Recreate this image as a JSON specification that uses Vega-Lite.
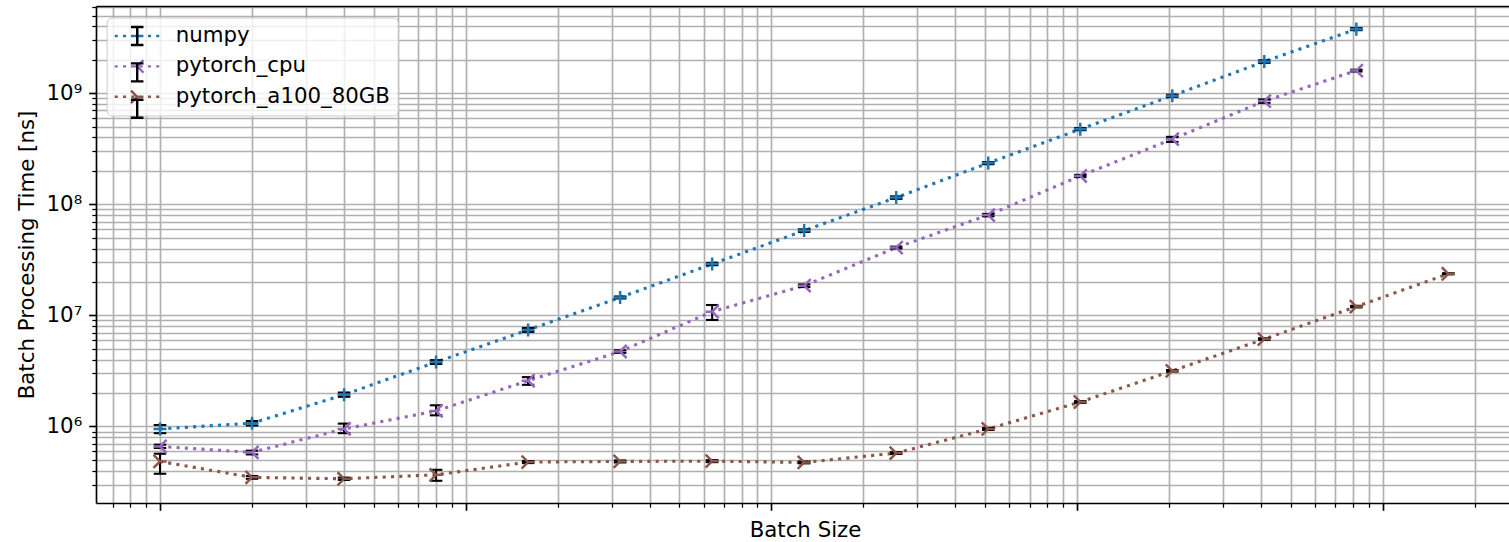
{
  "$schema": "https://vega.github.io/schema/vega-lite/v6.json",
  "autosize": "none",
  "width": 1413,
  "height": 497,
  "padding": {"left": 96, "top": 6, "right": 0, "bottom": 39},
  "background": "white",
  "config": {
    "font": "DejaVu Sans",
    "view": {"stroke": null}
  },
  "data": {
    "values": [
      {"series": "numpy", "batch": 1, "time": 950000, "lo": 870000, "hi": 1030000},
      {"series": "numpy", "batch": 2, "time": 1070000, "lo": 1020000, "hi": 1120000},
      {"series": "numpy", "batch": 4, "time": 1930000, "lo": 1850000, "hi": 2020000},
      {"series": "numpy", "batch": 8, "time": 3800000, "lo": 3650000, "hi": 3950000},
      {"series": "numpy", "batch": 16, "time": 7400000, "lo": 7100000, "hi": 7700000},
      {"series": "numpy", "batch": 32, "time": 14500000, "lo": 14200000, "hi": 14800000},
      {"series": "numpy", "batch": 64, "time": 29000000, "lo": 28300000, "hi": 29700000},
      {"series": "numpy", "batch": 128, "time": 58000000, "lo": 56500000, "hi": 59500000},
      {"series": "numpy", "batch": 256, "time": 115000000, "lo": 112000000, "hi": 118000000},
      {"series": "numpy", "batch": 512, "time": 235000000, "lo": 230000000, "hi": 240000000},
      {"series": "numpy", "batch": 1024, "time": 475000000, "lo": 465000000, "hi": 485000000},
      {"series": "numpy", "batch": 2048, "time": 950000000, "lo": 930000000, "hi": 970000000},
      {"series": "numpy", "batch": 4096, "time": 1930000000, "lo": 1880000000, "hi": 1980000000},
      {"series": "numpy", "batch": 8192, "time": 3780000000, "lo": 3700000000, "hi": 3860000000},
      {"series": "pytorch_cpu", "batch": 1, "time": 660000, "lo": 640000, "hi": 685000},
      {"series": "pytorch_cpu", "batch": 2, "time": 584000, "lo": 560000, "hi": 605000},
      {"series": "pytorch_cpu", "batch": 4, "time": 950000, "lo": 870000, "hi": 1060000},
      {"series": "pytorch_cpu", "batch": 8, "time": 1380000, "lo": 1260000, "hi": 1550000},
      {"series": "pytorch_cpu", "batch": 16, "time": 2580000, "lo": 2370000, "hi": 2780000},
      {"series": "pytorch_cpu", "batch": 32, "time": 4730000, "lo": 4600000, "hi": 4850000},
      {"series": "pytorch_cpu", "batch": 64, "time": 10800000, "lo": 9100000, "hi": 12400000},
      {"series": "pytorch_cpu", "batch": 128, "time": 18500000, "lo": 18000000, "hi": 19000000},
      {"series": "pytorch_cpu", "batch": 256, "time": 40800000, "lo": 40000000, "hi": 41600000},
      {"series": "pytorch_cpu", "batch": 512, "time": 80000000, "lo": 78000000, "hi": 82000000},
      {"series": "pytorch_cpu", "batch": 1024, "time": 180000000, "lo": 176000000, "hi": 184000000},
      {"series": "pytorch_cpu", "batch": 2048, "time": 386000000, "lo": 365000000, "hi": 405000000},
      {"series": "pytorch_cpu", "batch": 4096, "time": 850000000, "lo": 820000000, "hi": 880000000},
      {"series": "pytorch_cpu", "batch": 8192, "time": 1600000000, "lo": 1570000000, "hi": 1630000000},
      {"series": "pytorch_a100_80GB", "batch": 1, "time": 484000, "lo": 375000, "hi": 568000},
      {"series": "pytorch_a100_80GB", "batch": 2, "time": 348000, "lo": 338000, "hi": 358000},
      {"series": "pytorch_a100_80GB", "batch": 4, "time": 338000, "lo": 330000, "hi": 346000},
      {"series": "pytorch_a100_80GB", "batch": 8, "time": 367000, "lo": 324000, "hi": 407000},
      {"series": "pytorch_a100_80GB", "batch": 16, "time": 478000, "lo": 468000, "hi": 488000},
      {"series": "pytorch_a100_80GB", "batch": 32, "time": 484000, "lo": 474000, "hi": 494000},
      {"series": "pytorch_a100_80GB", "batch": 64, "time": 487000, "lo": 477000, "hi": 497000},
      {"series": "pytorch_a100_80GB", "batch": 128, "time": 474000, "lo": 465000, "hi": 483000},
      {"series": "pytorch_a100_80GB", "batch": 256, "time": 576000, "lo": 565000, "hi": 587000},
      {"series": "pytorch_a100_80GB", "batch": 512, "time": 950000, "lo": 930000, "hi": 970000},
      {"series": "pytorch_a100_80GB", "batch": 1024, "time": 1660000, "lo": 1630000, "hi": 1690000},
      {"series": "pytorch_a100_80GB", "batch": 2048, "time": 3170000, "lo": 3120000, "hi": 3220000},
      {"series": "pytorch_a100_80GB", "batch": 4096, "time": 6120000, "lo": 6020000, "hi": 6220000},
      {"series": "pytorch_a100_80GB", "batch": 8192, "time": 12000000, "lo": 11800000, "hi": 12200000},
      {"series": "pytorch_a100_80GB", "batch": 16384, "time": 23700000, "lo": 23400000, "hi": 24000000}
    ]
  },
  "layer": [
    {
      "mark": {"type": "line", "strokeDash": [3.1, 5.2], "strokeWidth": 3.1},
      "encoding": {
        "x": {
          "field": "batch", "type": "quantitative",
          "scale": {"type": "log", "domain": [0.6175, 25870], "nice": false},
          "axis": {
            "values": [0.7, 0.8, 0.9, 1, 2, 3, 4, 5, 6, 7, 8, 9, 10, 20, 30, 40, 50, 60, 70, 80, 90, 100, 200, 300, 400, 500, 600, 700, 800, 900, 1000, 2000, 3000, 4000, 5000, 6000, 7000, 8000, 9000, 10000, 20000],
            "labels": false,
            "grid": true, "gridColor": "#b0b0b0", "gridWidth": 1.67,
            "domain": true, "domainColor": "black", "domainWidth": 1.67,
            "ticks": true, "tickColor": "black",
            "tickSize": {"condition": {"test": "abs(log(datum.value)/LN10 - round(log(datum.value)/LN10)) < 1e-6", "value": 7.3}, "value": 4.2},
            "tickWidth": {"condition": {"test": "abs(log(datum.value)/LN10 - round(log(datum.value)/LN10)) < 1e-6", "value": 1.67}, "value": 1.25},
            "title": "Batch Size", "titleFontSize": 21.3, "titleFontWeight": "normal", "titleColor": "black",
            "titleX": 709, "titleY": 33.7, "titleAlign": "center", "titleBaseline": "alphabetic"
          }
        },
        "y": {
          "field": "time", "type": "quantitative",
          "scale": {"type": "log", "domain": [204500, 6107000000], "nice": false},
          "axis": {
            "values": [300000, 400000, 500000, 600000, 700000, 800000, 900000, 1000000, 2000000, 3000000, 4000000, 5000000, 6000000, 7000000, 8000000, 9000000, 10000000, 20000000, 30000000, 40000000, 50000000, 60000000, 70000000, 80000000, 90000000, 100000000, 200000000, 300000000, 400000000, 500000000, 600000000, 700000000, 800000000, 900000000, 1000000000, 2000000000, 3000000000, 4000000000, 5000000000, 6000000000],
            "labelExpr": "datum.value == 1000000 ? '10⁶' : datum.value == 10000000 ? '10⁷' : datum.value == 100000000 ? '10⁸' : datum.value == 1000000000 ? '10⁹' : ''",
            "labelFontSize": 21.3, "labelColor": "black", "labelPadding": 7, "labelOverlap": false, "labelFlush": false, "labelBaseline": "middle",
            "grid": true, "gridColor": "#b0b0b0", "gridWidth": 1.67,
            "domain": true, "domainColor": "black", "domainWidth": 1.67,
            "ticks": true, "tickColor": "black",
            "tickSize": {"condition": {"test": "abs(log(datum.value)/LN10 - round(log(datum.value)/LN10)) < 1e-6", "value": 7.3}, "value": 4.2},
            "tickWidth": {"condition": {"test": "abs(log(datum.value)/LN10 - round(log(datum.value)/LN10)) < 1e-6", "value": 1.67}, "value": 1.25},
            "title": "Batch Processing Time [ns]", "titleFontSize": 21.3, "titleFontWeight": "normal", "titleColor": "black",
            "titleAngle": -90, "titleX": -63, "titleY": 248.5, "titleAlign": "center", "titleBaseline": "alphabetic"
          }
        },
        "color": {
          "field": "series", "type": "nominal",
          "scale": {"domain": ["numpy", "pytorch_cpu", "pytorch_a100_80GB"], "range": ["#1f77b4", "#9467bd", "#8c564b"]},
          "legend": null
        }
      }
    },
    {
      "mark": {"type": "rule", "color": "black", "strokeWidth": 2},
      "encoding": {
        "x": {"field": "batch", "type": "quantitative", "axis": null},
        "y": {"field": "lo", "type": "quantitative"},
        "y2": {"field": "hi"}
      }
    },
    {
      "mark": {"type": "point", "filled": false, "color": "black", "strokeWidth": 2.1, "size": 156, "shape": "M-1,0L1,0", "opacity": 1},
      "encoding": {
        "x": {"field": "batch", "type": "quantitative", "axis": null},
        "y": {"field": "lo", "type": "quantitative"}
      }
    },
    {
      "mark": {"type": "point", "filled": false, "color": "black", "strokeWidth": 2.1, "size": 156, "shape": "M-1,0L1,0", "opacity": 1},
      "encoding": {
        "x": {"field": "batch", "type": "quantitative", "axis": null},
        "y": {"field": "hi", "type": "quantitative"}
      }
    },
    {
      "mark": {"type": "point", "filled": false, "strokeWidth": 2.5, "size": 170, "opacity": 1},
      "encoding": {
        "x": {"field": "batch", "type": "quantitative",
          "axis": {"orient": "top", "domain": true, "domainColor": "black", "domainWidth": 1.67, "ticks": false, "labels": false, "grid": false, "title": null}},
        "y": {"field": "time", "type": "quantitative"},
        "color": {
          "field": "series", "type": "nominal",
          "scale": {"domain": ["numpy", "pytorch_cpu", "pytorch_a100_80GB"], "range": ["#1f77b4", "#9467bd", "#8c564b"]},
          "legend": null
        },
        "shape": {
          "field": "series", "type": "nominal",
          "scale": {"domain": ["numpy", "pytorch_cpu", "pytorch_a100_80GB"], "range": ["M-1,0L1,0M0,-1L0,1", "M0,0L-1,0M0,0L1,-1M0,0L1,1", "M0,0L1,0M0,0L-1,-1M0,0L-1,1"]},
          "legend": null
        }
      }
    },
    {
      "transform": [{"filter": "false"}],
      "mark": {"type": "point", "filled": false, "strokeWidth": 2.2, "size": 400, "opacity": 1},
      "encoding": {
        "color": {
          "field": "series", "type": "nominal",
          "scale": {"domain": ["numpy", "pytorch_cpu", "pytorch_a100_80GB"], "range": ["#1f77b4", "#9467bd", "#8c564b"]},
          "legend": {
            "orient": "none", "legendX": 10.7, "legendY": 11.5, "title": null,
            "padding": 7, "fillColor": "rgba(255,255,255,0.8)", "strokeColor": "#cccccc", "cornerRadius": 5,
            "labelFontSize": 21.3, "labelColor": "black", "labelLimit": 400, "labelOffset": 27,
            "symbolSize": 400, "symbolStrokeWidth": 2.4, "symbolOffset": 12, "rowPadding": 7.4
          }
        },
        "shape": {
          "field": "series", "type": "nominal",
          "scale": {"domain": ["numpy", "pytorch_cpu", "pytorch_a100_80GB"], "range": [
            "M-2.25,0L-1.94,0M-1.42,0L-1.11,0M-0.59,0L-0.28,0M0.24,0L0.55,0M1.07,0L1.38,0M1.9,0L2.21,0M-0.625,0L0.625,0M0,-0.625L0,0.625",
            "M-2.25,0L-1.94,0M-1.42,0L-1.11,0M-0.59,0L-0.28,0M0.24,0L0.55,0M1.07,0L1.38,0M1.9,0L2.21,0M0,0L-0.625,0M0,0L0.625,-0.625M0,0L0.625,0.625",
            "M-2.25,0L-1.94,0M-1.42,0L-1.11,0M-0.59,0L-0.28,0M0.24,0L0.55,0M1.07,0L1.38,0M1.9,0L2.21,0M0,0L0.625,0M0,0L-0.625,-0.625M0,0L-0.625,0.625"
          ]},
          "legend": {
            "orient": "none", "legendX": 10.7, "legendY": 11.5, "title": null,
            "padding": 7, "fillColor": "rgba(255,255,255,0.8)", "strokeColor": "#cccccc", "cornerRadius": 5,
            "labelFontSize": 21.3, "labelColor": "black", "labelLimit": 400, "labelOffset": 27,
            "symbolSize": 400, "symbolStrokeWidth": 2.4, "symbolOffset": 12, "rowPadding": 7.4
          }
        }
      }
    },
    {
      "transform": [{"filter": "false"}],
      "mark": {"type": "point", "filled": false, "color": "black", "strokeWidth": 2.4, "size": 400, "opacity": 1},
      "encoding": {
        "shape": {
          "field": "series", "type": "nominal",
          "scale": {"domain": ["numpy", "pytorch_cpu", "pytorch_a100_80GB"], "range": [
            "M-0.625,-0.9L0.625,-0.9M0,-0.9L0,0.9M-0.625,0.9L0.625,0.9",
            "M-0.625,-0.9L0.625,-0.9M0,-0.9L0,0.9M-0.625,0.9L0.625,0.9",
            "M-0.625,-0.9L0.625,-0.9M0,-0.9L0,0.9M-0.625,0.9L0.625,0.9"
          ]},
          "legend": {
            "orient": "none", "legendX": 10.7, "legendY": 11.5, "title": null,
            "padding": 7, "fillColor": "transparent", "strokeColor": "transparent",
            "labelFontSize": 21.3, "labelColor": "transparent", "labelExpr": "''", "labelLimit": 400, "labelOffset": 27,
            "symbolSize": 400, "symbolStrokeWidth": 2.4, "symbolStrokeColor": "black", "symbolOffset": 12, "rowPadding": 7.4
          }
        }
      }
    }
  ],
  "resolve": {
    "scale": {"color": "independent", "shape": "independent"},
    "axis": {"x": "independent"}
  }
}
